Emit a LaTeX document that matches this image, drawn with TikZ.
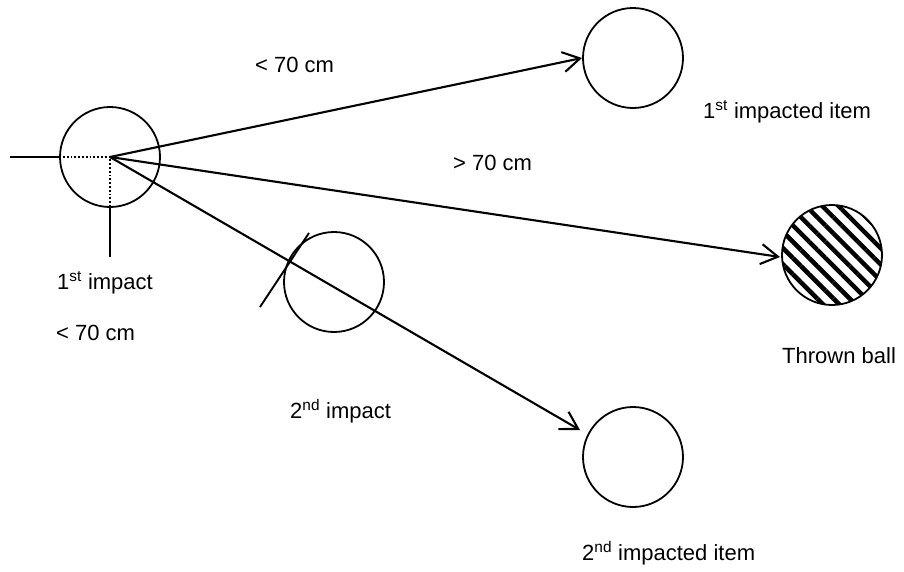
\documentclass[tikz,border=0pt]{standalone}
\usepackage{fontspec}
\setmainfont{Liberation Sans}
\usetikzlibrary{arrows.meta,patterns.meta}
\begin{document}
\begin{tikzpicture}[x=1pt,y=-1pt,
  ring/.style={circle,draw,line width=1.8pt,minimum size=100pt,inner sep=0pt},
  conn/.style={line width=2.1pt,-{Straight Barb[length=17pt,width=20pt,line width=2.1pt]}},
  plain/.style={line width=1.9pt},
  dots/.style={line width=1.8pt,dotted},
  lbl/.style={anchor=base west,inner sep=0pt,font=\fontsize{22}{26}\selectfont}]
\useasboundingbox (0,0) rectangle (904,571);
\node[ring] (c1) at (110,157) {};
\node[ring] (top) at (633,58) {};
\node[ring] (bot) at (633,457) {};
\node[ring] (imp2) at (334,282) {};
\node[ring,pattern={Lines[angle=-45,distance=11.5pt,line width=4.5pt]}] (ball) at (832,255) {};
\coordinate (ttop) at (582,58);
\coordinate (tball) at (780,257);
\coordinate (tbot) at (580,430);
\coordinate (hl) at (10,157);
\coordinate (vl) at (110,257);
\coordinate (ta) at (260,307);
\coordinate (tb) at (309,233);
\draw[conn] (c1.center) -- (ttop);
\draw[conn] (c1.center) -- (tball);
\draw[conn] (c1.center) -- (tbot);
\draw[plain] (hl) -- (c1.west);
\draw[plain] (vl) -- (c1.south);
\draw[dots] (c1.west) -- (c1.center) -- (c1.south);
\draw[plain] (ta) -- (tb);
\node[lbl] (l1) at (255,72) {< 70 cm};
\node[lbl] (l2) at (703,118) {1\textsuperscript{st} impacted item};
\node[lbl] (l3) at (453,170) {> 70 cm};
\node[lbl] (l4) at (57,289) {1\textsuperscript{st} impact};
\node[lbl] (l5) at (56,340) {< 70 cm};
\node[lbl] (l6) at (782,363) {Thrown ball};
\node[lbl] (l7) at (290,418) {2\textsuperscript{nd} impact};
\node[lbl] (l8) at (582,560) {2\textsuperscript{nd} impacted item};
\end{tikzpicture}
\end{document}
